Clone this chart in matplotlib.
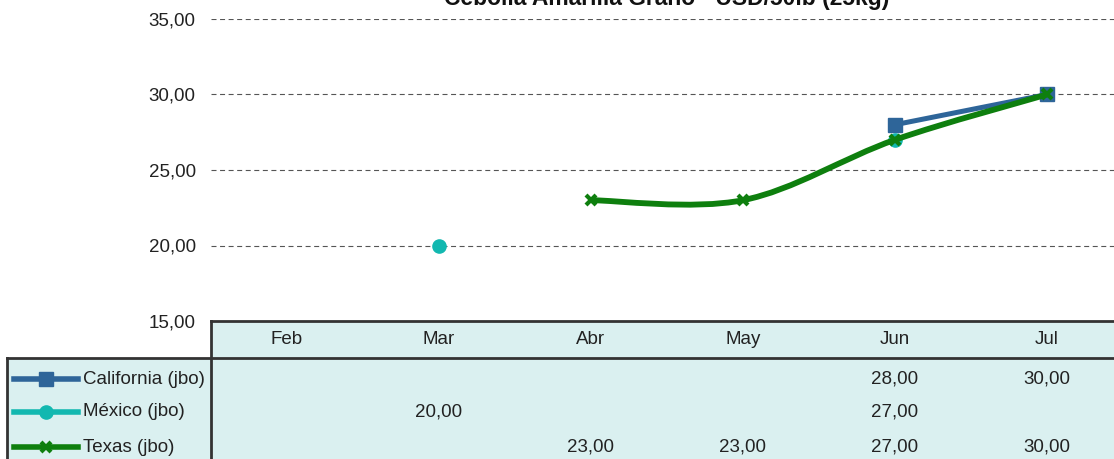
import matplotlib
matplotlib.use("Agg")
import matplotlib.pyplot as plt
import numpy as np
from matplotlib import font_manager
from matplotlib.path import Path
from matplotlib.patches import PathPatch, Rectangle
from matplotlib.lines import Line2D

# ---- data ----
months = ["Feb", "Mar", "Abr", "May", "Jun", "Jul"]
california = [np.nan, np.nan, np.nan, np.nan, 28.0, 30.0]
mexico = [np.nan, 20.0, np.nan, np.nan, 27.0, np.nan]
texas = [np.nan, np.nan, 23.0, 23.0, 27.0, 30.0]
series_names = ["California (jbo)", "México (jbo)", "Texas (jbo)"]
title = "Cebolla Amarilla Grano - USD/50lb (25kg)"
yticks = [15, 20, 25, 30, 35]

names = {f.name for f in font_manager.fontManager.ttflist}
FONT = "Liberation Sans Narrow" if "Liberation Sans Narrow" in names else "Liberation Sans"
plt.rcParams["font.family"] = [FONT, "DejaVu Sans"]
FS = 15 if FONT.endswith("Narrow") else 13.5

W, H = 1114, 459
fig = plt.figure(figsize=(W / 100, H / 100), dpi=100)


def box(left, top, right, bottom):
    return [left / W, (H - bottom) / H, (right - left) / W, (bottom - top) / H]


def fmt(v):
    return f"{v:.2f}".replace(".", ",")


C_CAL = "#2E6599"
C_MEX = "#12B8B0"
C_TEX = "#0E7F0E"
FILL = "#DAF0F0"
EDGE = "#333333"
TXT = "#222222"

# ---- chart area ----
ax = fig.add_axes(box(211, 19, 1123, 321))
ax.set_xlim(-0.5, len(months) - 0.5)
ax.set_ylim(15, 35)
ax.set_yticks(yticks)
ax.set_yticklabels([fmt(v) for v in yticks], fontsize=FS, color=TXT)
ax.tick_params(axis="y", length=0, pad=11)
ax.set_xticks([])
for s in ax.spines.values():
    s.set_visible(False)
for v in yticks[1:]:
    ax.axhline(v, color="#555555", lw=0.8, dashes=(4.5, 3.2), zorder=1)

x = np.arange(len(months))


def smooth_path(xs, ys):
    # Catmull-Rom style bezier, like Excel's smoothed line
    pts = [(a, b) for a, b in zip(xs, ys) if not np.isnan(b)]
    verts = [pts[0]]
    codes = [Path.MOVETO]
    n = len(pts)
    for i in range(n - 1):
        p0 = np.array(pts[max(i - 1, 0)])
        p1 = np.array(pts[i])
        p2 = np.array(pts[i + 1])
        p3 = np.array(pts[min(i + 2, n - 1)])
        c1 = p1 + (p2 - p0) / 6
        c2 = p2 - (p3 - p1) / 6
        verts += [tuple(c1), tuple(c2), tuple(p2)]
        codes += [Path.CURVE4] * 3
    return Path(verts, codes)


ax.plot(x, california, color=C_CAL, lw=3.6, marker="s", ms=9.5,
        solid_capstyle="round", zorder=3)
ax.plot(x, mexico, color=C_MEX, lw=3.6, marker="o", ms=9.5, ls="none", zorder=4)
ax.add_patch(PathPatch(smooth_path(x, texas), fill=False, color=C_TEX, lw=4.2,
                       capstyle="round", zorder=5))
ax.plot(x, texas, color=C_TEX, ls="none", marker="x", ms=7, mew=3, zorder=6)

fig.text(667 / W, (H - 5) / H, title, ha="center", va="baseline",
         fontsize=16.5, fontweight="bold", color="#111111")

# ---- data table ----
LEG_W = 204 / 152
tab = fig.add_axes(box(7, 321, 1123, 490))
tab.set_xlim(-0.5 - LEG_W, len(months) - 0.5)
tab.set_ylim(490, 321)
tab.axis("off")
head_bot = 358
tab.add_patch(Rectangle((-0.5, 321), len(months), 490 - 321, color=FILL, lw=0))
tab.add_patch(Rectangle((-0.5 - LEG_W, head_bot), LEG_W, 490 - head_bot, color=FILL, lw=0))
kw = dict(color=EDGE, lw=2, solid_capstyle="projecting", clip_on=False)
tab.plot([-0.5, len(months) - 0.5], [321, 321], **kw)
tab.plot([-0.5, -0.5], [321, 490], **kw)
tab.plot([-0.5 - LEG_W, len(months) - 0.5], [head_bot, head_bot], **kw)
tab.plot([-0.5 - LEG_W, -0.5 - LEG_W], [head_bot, 490], **kw)

for i, m in enumerate(months):
    tab.text(i, 339, m, ha="center", va="center", fontsize=FS, color=TXT)

styles = [dict(color=C_CAL, marker="s", ms=9.5),
          dict(color=C_MEX, marker="o", ms=9.5),
          dict(color=C_TEX, marker="x", ms=7, mew=3)]
row_y = [379, 412, 447]
for r, (name, vals, st) in enumerate(zip(series_names, [california, mexico, texas], styles)):
    y = row_y[r]
    x0 = -0.5 - LEG_W + 7 / 152
    x1 = -0.5 - LEG_W + 71 / 152
    tab.add_line(Line2D([x0, x1], [y, y], color=st["color"], lw=4, zorder=3))
    tab.add_line(Line2D([(x0 + x1) / 2], [y], ls="none", zorder=4, **st))
    tab.text(-0.5 - LEG_W + 76 / 152, y, name, ha="left", va="center",
             fontsize=FS, color=TXT)
    for i, v in enumerate(vals):
        if not np.isnan(v):
            tab.text(i, y, fmt(v), ha="center", va="center", fontsize=FS, color=TXT)

fig.savefig("out.png", dpi=100)
